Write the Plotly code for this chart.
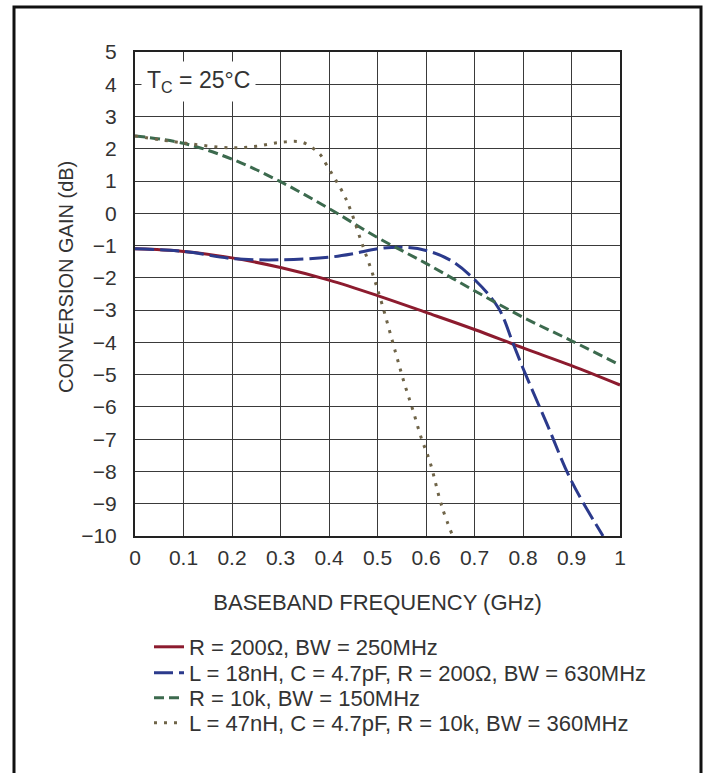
import plotly.graph_objects as go

# ---- data ----
red_x = [0, 0.1, 0.2, 0.3, 0.4, 0.5, 0.6, 0.7, 0.8, 0.9, 1.0]
red_y = [-1.1, -1.18, -1.38, -1.68, -2.07, -2.55, -3.07, -3.6, -4.17, -4.72, -5.32]

blue_x = [0, 0.1, 0.2, 0.3, 0.4, 0.45, 0.5, 0.55, 0.6, 0.65, 0.7, 0.75, 0.78, 0.8, 0.85, 0.9, 0.965]
blue_y = [-1.1, -1.18, -1.4, -1.44, -1.36, -1.25, -1.1, -1.05, -1.15, -1.45, -2.05, -2.95, -4.05, -4.8, -6.55, -8.3, -10.0]

green_x = [0, 0.1, 0.2, 0.3, 0.4, 0.5, 0.6, 0.7, 0.8, 0.9, 1.0]
green_y = [2.4, 2.17, 1.68, 0.98, 0.15, -0.75, -1.55, -2.4, -3.22, -3.95, -4.7]

dot_x = [0, 0.1, 0.2, 0.25, 0.3, 0.345, 0.38, 0.395, 0.43, 0.445, 0.466, 0.49, 0.509, 0.537, 0.555, 0.573, 0.59, 0.608, 0.633, 0.655]
dot_y = [2.4, 2.18, 2.03, 2.08, 2.2, 2.2, 1.85, 1.5, 0.6, 0.08, -0.85, -1.88, -2.8, -4.3, -5.25, -6.1, -6.95, -7.7, -9.1, -10.0]

names = [
    "R = 200Ω, BW = 250MHz",
    "L = 18nH, C = 4.7pF, R = 200Ω, BW = 630MHz",
    "R = 10k, BW = 150MHz",
    "L = 47nH, C = 4.7pF, R = 10k, BW = 360MHz",
]
x_title = "BASEBAND FREQUENCY (GHz)"
y_title = "CONVERSION GAIN (dB)"
temp_label = "T<sub>C</sub> = 25°C"

FONT = "Liberation Sans, Arial, sans-serif"
TXT = "#333333"

W, H = 710, 773
L, R, T, B = 135, 90, 52, 237
pw, ph = W - L - R, H - T - B

def px(x):
    return (x - L) / pw

def py(y):
    return (H - B - y) / ph

series = [
    (red_x, red_y, dict(color="#8c1b2e", width=3, shape="spline")),
    (blue_x, blue_y, dict(color="#2b3a8c", width=3, dash="19px,6px", shape="spline")),
    (green_x, green_y, dict(color="#3c6a4e", width=3, dash="10px,5px", shape="spline")),
    (dot_x, dot_y, dict(color="#6f6448", width=3, dash="3px,7px", shape="spline")),
]
legend_rows = [647, 673, 698, 723]
legend_ids = ["legend", "legend2", "legend3", "legend4"]

fig = go.Figure()
for (xs, ys, ln), nm, lid in zip(series, names, legend_ids):
    fig.add_trace(go.Scatter(x=xs, y=ys, mode="lines", name=nm, line=ln, legend=lid))

legends = {}
for lid, row in zip(legend_ids, legend_rows):
    legends[lid] = dict(x=px(149), y=py(row), xanchor="left", yanchor="middle",
                        font=dict(family=FONT, size=22, color=TXT),
                        bgcolor="rgba(0,0,0,0)", borderwidth=0)

fig.add_shape(type="rect", xref="paper", yref="paper",
              x0=px(14), x1=px(701), y0=py(790), y1=py(7),
              line=dict(color="#111", width=3), fillcolor="rgba(0,0,0,0)", layer="below")

fig.add_annotation(x=0.012, y=4.1, xref="x", yref="y", xanchor="left", yanchor="middle",
                   text=temp_label, showarrow=False, bgcolor="white",
                   borderpad=5, font=dict(family=FONT, size=23, color=TXT))

fig.add_annotation(x=px(66), y=py(277), xref="paper", yref="paper", xanchor="center", yanchor="middle",
                   text=y_title, textangle=-90, showarrow=False,
                   font=dict(family=FONT, size=20, color=TXT))

fig.update_layout(
    width=W, height=H,
    margin=dict(l=L, r=R, t=T, b=B),
    paper_bgcolor="white", plot_bgcolor="white",
    font=dict(family=FONT, size=21, color=TXT),
    showlegend=True,
    **legends,
)
fig.update_xaxes(range=[0, 1], dtick=0.1, tick0=0, showgrid=True, gridcolor="#3a3a3a", gridwidth=1,
                 showline=True, linecolor="#222", linewidth=2, mirror=True, zeroline=False,
                 ticks="", tickfont=dict(size=21), ticklabelstandoff=2,
                 title=dict(text=x_title, font=dict(size=22), standoff=26))
fig.update_yaxes(range=[-10, 5], dtick=1, tick0=0, showgrid=True, gridcolor="#3a3a3a", gridwidth=1,
                 showline=True, linecolor="#222", linewidth=2, mirror=True, zeroline=False,
                 ticks="", tickfont=dict(size=21), ticklabelstandoff=12)

fig.write_html("out.html", config={"displayModeBar": False})

# remove the default page margin so the figure sits at the window's top-left corner
with open("out.html", "r", encoding="utf-8") as f:
    html = f.read()
html = html.replace("<head>", "<head><style>html,body{margin:0;padding:0;overflow:hidden;}</style>", 1)
with open("out.html", "w", encoding="utf-8") as f:
    f.write(html)
